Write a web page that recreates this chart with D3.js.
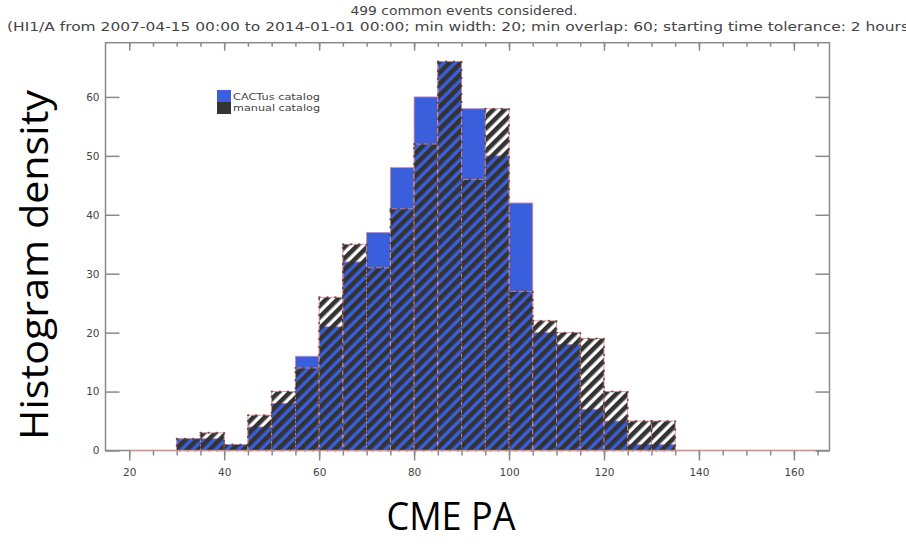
<!DOCTYPE html>
<html>
<head>
<meta charset="utf-8">
<script src="https://cdn.jsdelivr.net/npm/d3@7"></script>
<style>
  body { margin: 0; background: #fff; }
  svg { display: block; }
</style>
</head>
<body>
<div id="chart"></div>
<script>
// Width and height
var w = 906;
var h = 544;

// histogram bins (CME position angle, 5 deg wide)
var binStarts = [30, 35, 40, 45, 50, 55, 60, 65, 70, 75, 80, 85, 90, 95, 100, 105, 110, 115, 120, 125, 130];
var binWidth = 5;
var cactusCounts = [2, 2, 1, 4, 8, 16, 21, 32, 37, 48, 60, 66, 58, 50, 42, 20, 18, 7, 5, 1, 1];
var manualCounts = [2, 3, 1, 6, 10, 14, 26, 35, 31, 41, 52, 66, 46, 58, 27, 22, 20, 19, 10, 5, 5];

var xMajor = [20, 40, 60, 80, 100, 120, 140, 160];
var xMinor = d3.range(20, 166, 5);
var yMajor = [0, 10, 20, 30, 40, 50, 60];

var titleLines = ["499 common events considered.",
  "(HI1/A from 2007-04-15 00:00 to 2014-01-01 00:00; min width: 20; min overlap: 60; starting time tolerance: 2 hours)"];
var legendLabels = ["CACTus catalog", "manual catalog"];

var blue = "#3a5fdc";
var dark = "#333333";
var pink = "#e08a8a";
var axisGrey = "#8a8a8a";

var x = d3.scaleLinear().domain([15, 167.5]).range([105.5, 829.5]);
var y = d3.scaleLinear().domain([0, 69.2]).range([450.5, 42.7]);

var svg = d3.select("#chart")
  .append("svg")
  .attr("width", w)
  .attr("height", h);

// hatch pattern
var defs = svg.append("defs");
var pat = defs.append("pattern")
  .attr("id", "hatch")
  .attr("patternUnits", "userSpaceOnUse")
  .attr("width", 8)
  .attr("height", 8)
  .attr("patternTransform", "rotate(45)");
pat.append("rect")
  .attr("x", 0).attr("y", 0)
  .attr("width", 4.6).attr("height", 8)
  .attr("fill", dark);

// titles
svg.append("text")
  .attr("x", 464).attr("y", 15)
  .attr("text-anchor", "middle")
  .attr("font-family", "DejaVu Sans Condensed, DejaVu Sans, sans-serif")
  .attr("font-size", "12.5px")
  .attr("fill", "#444")
  .attr("textLength", 227)
  .attr("lengthAdjust", "spacingAndGlyphs")
  .text(titleLines[0]);
svg.append("text")
  .attr("x", 7).attr("y", 31)
  .attr("font-family", "DejaVu Sans Condensed, DejaVu Sans, sans-serif")
  .attr("font-size", "12.5px")
  .attr("fill", "#444")
  .attr("textLength", 908)
  .attr("lengthAdjust", "spacingAndGlyphs")
  .text(titleLines[1]);

// blue bars (CACTus)
svg.selectAll("rect.cactus")
  .data(binStarts)
  .enter()
  .append("rect")
  .attr("class", "cactus")
  .attr("x", function(d) { return x(d); })
  .attr("y", function(d, i) { return y(cactusCounts[i]); })
  .attr("width", function(d) { return x(d + binWidth) - x(d); })
  .attr("height", function(d, i) { return y(0) - y(cactusCounts[i]); })
  .attr("fill", blue)
  .attr("stroke", pink)
  .attr("stroke-width", 0.8);

// hatched bars (manual)
svg.selectAll("rect.manual")
  .data(binStarts)
  .enter()
  .append("rect")
  .attr("class", "manual")
  .attr("x", function(d) { return x(d); })
  .attr("y", function(d, i) { return y(manualCounts[i]); })
  .attr("width", function(d) { return x(d + binWidth) - x(d); })
  .attr("height", function(d, i) { return y(0) - y(manualCounts[i]); })
  .attr("fill", "url(#hatch)")
  .attr("stroke", pink)
  .attr("stroke-width", 0.8);

// dotted edges of the hatched bars
svg.selectAll("rect.dots")
  .data(binStarts)
  .enter()
  .append("rect")
  .attr("x", function(d) { return x(d); })
  .attr("y", function(d, i) { return y(manualCounts[i]); })
  .attr("width", function(d) { return x(d + binWidth) - x(d); })
  .attr("height", function(d, i) { return y(0) - y(manualCounts[i]); })
  .attr("fill", "none")
  .attr("stroke", dark)
  .attr("stroke-width", 2)
  .attr("stroke-linecap", "round")
  .attr("stroke-dasharray", "0.5,7.5")
  .attr("opacity", 0.7);

// frame
svg.append("rect")
  .attr("x", x(15)).attr("y", y(69.2))
  .attr("width", x(167.5) - x(15))
  .attr("height", y(0) - y(69.2))
  .attr("fill", "none")
  .attr("stroke", axisGrey)
  .attr("stroke-width", 1.5);

// pink baseline of the histogram
svg.append("line")
  .attr("x1", x(20)).attr("x2", x(165))
  .attr("y1", y(0)).attr("y2", y(0))
  .attr("stroke", pink)
  .attr("stroke-width", 1.2);

function styleAxis(g) {
  g.select(".domain").remove();
  g.selectAll(".tick line").attr("stroke", axisGrey).attr("stroke-width", 1.5);
  g.selectAll(".tick text")
    .attr("fill", "#444")
    .attr("font-family", "DejaVu Sans, sans-serif")
    .attr("font-size", "10.5px");
}

// bottom axis: minor + major ticks pointing out
svg.append("g")
  .attr("transform", "translate(0," + y(0) + ")")
  .call(d3.axisBottom(x).tickValues(xMinor).tickSize(5).tickFormat(""))
  .call(styleAxis);
svg.append("g")
  .attr("transform", "translate(0," + y(0) + ")")
  .call(d3.axisBottom(x).tickValues(xMajor).tickSize(10).tickPadding(8).tickFormat(d3.format("d")))
  .call(styleAxis);

// top axis: ticks pointing in
svg.append("g")
  .attr("transform", "translate(0," + y(69.2) + ")")
  .call(d3.axisTop(x).tickValues(xMinor).tickSize(-4).tickFormat(""))
  .call(styleAxis);
svg.append("g")
  .attr("transform", "translate(0," + y(69.2) + ")")
  .call(d3.axisTop(x).tickValues(xMajor).tickSize(-8).tickFormat(""))
  .call(styleAxis);

// left axis
svg.append("g")
  .attr("transform", "translate(" + x(15) + ",0)")
  .call(d3.axisLeft(y).tickValues(yMajor).tickSize(-14).tickPadding(6).tickFormat(d3.format("d")))
  .call(styleAxis);

// right axis
svg.append("g")
  .attr("transform", "translate(" + x(167.5) + ",0)")
  .call(d3.axisRight(y).tickValues(yMajor).tickSize(-14).tickFormat(""))
  .call(styleAxis);

// legend
var legend = svg.append("g").attr("transform", "translate(217,90)");
legend.append("rect")
  .attr("x", 0).attr("y", 0).attr("width", 14).attr("height", 12)
  .attr("fill", blue);
legend.append("rect")
  .attr("x", 0).attr("y", 12).attr("width", 14).attr("height", 12)
  .attr("fill", dark);
legend.selectAll("text")
  .data(legendLabels)
  .enter()
  .append("text")
  .attr("x", 16)
  .attr("y", function(d, i) { return 10 + i * 11; })
  .attr("font-family", "DejaVu Sans, sans-serif")
  .attr("font-size", "9.5px")
  .attr("fill", "#444")
  .attr("textLength", 87)
  .attr("lengthAdjust", "spacingAndGlyphs")
  .text(function(d) { return d; });

// big axis titles
svg.append("text")
  .attr("transform", "translate(48,265) rotate(-90)")
  .attr("text-anchor", "middle")
  .attr("font-family", "Open Sans, sans-serif")
  .attr("font-size", "38px")
  .attr("fill", "#000")
  .attr("textLength", 350)
  .attr("lengthAdjust", "spacingAndGlyphs")
  .text("Histogram density");
svg.append("text")
  .attr("x", 451).attr("y", 530)
  .attr("text-anchor", "middle")
  .attr("font-family", "Open Sans, sans-serif")
  .attr("font-size", "38px")
  .attr("fill", "#000")
  .attr("textLength", 129)
  .attr("lengthAdjust", "spacingAndGlyphs")
  .text("CME PA");
</script>
</body>
</html>
